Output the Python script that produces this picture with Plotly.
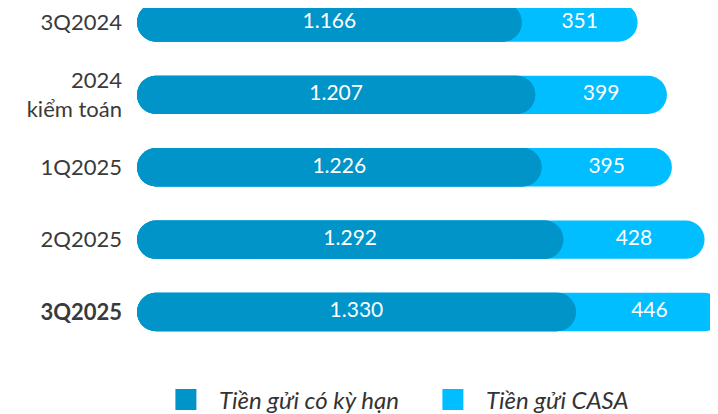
import plotly.graph_objects as go

categories = ['3Q2024', '2024<br>kiểm toán', '1Q2025', '2Q2025', '<b>3Q2025</b>']
term_deposits = [1166, 1207, 1226, 1292, 1330]
casa_deposits = [351, 399, 395, 428, 446]
series_names = ['Tiền gửi có kỳ hạn', 'Tiền gửi CASA']

dark = '#0094C9'
light = '#00BEFF'
font_family = 'Lato, Noto Sans, sans-serif'

totals = [t + c for t, c in zip(term_deposits, casa_deposits)]
fmt = lambda v: f'{v:,}'.replace(',', '.')

fig = go.Figure()
# light pill = full total, right end rounded (left end hidden under dark pill)
fig.add_trace(go.Bar(y=categories, x=totals, base=0, orientation='h', width=0.53,
                     marker=dict(color=light, cornerradius='50%', line=dict(width=0)),
                     showlegend=False, hoverinfo='skip'))
# dark pill drawn as two halves so both ends get rounded
fig.add_trace(go.Bar(y=categories, x=[-t for t in term_deposits], base=term_deposits, orientation='h', width=0.53,
                     marker=dict(color=dark, cornerradius='50%', line=dict(width=0)),
                     showlegend=False, hoverinfo='skip'))
fig.add_trace(go.Bar(y=categories, x=term_deposits, base=0, orientation='h', width=0.53,
                     marker=dict(color=dark, cornerradius='50%', line=dict(width=0)),
                     showlegend=False, hoverinfo='skip'))

# value labels
fig.add_trace(go.Scatter(y=categories, x=[t / 2 for t in term_deposits], mode='text',
                         text=[fmt(t) for t in term_deposits],
                         textfont=dict(color='white', size=21, family=font_family),
                         showlegend=False, hoverinfo='skip'))
fig.add_trace(go.Scatter(y=categories, x=[t + c / 2 for t, c in zip(term_deposits, casa_deposits)], mode='text',
                         text=[fmt(c) for c in casa_deposits],
                         textfont=dict(color='white', size=21, family=font_family),
                         showlegend=False, hoverinfo='skip'))

# legend entries
for name, col in zip(series_names, [dark, light]):
    fig.add_trace(go.Scatter(x=[None], y=[None], mode='markers', name=name,
                             marker=dict(symbol='square', size=16, color=col,
                                         line=dict(color=col, width=5))))

# page body has an 8px margin, so the layout is laid out 8px up/left
fig.update_layout(
    width=718, height=414,
    margin=dict(l=129, r=0, t=0, b=64, autoexpand=False),
    paper_bgcolor='white', plot_bgcolor='white',
    barmode='overlay',
    font=dict(family=font_family, color='#3a3a3a'),
    xaxis=dict(visible=False, range=[0, 1785], automargin=False),
    yaxis=dict(type='category', range=[4.635, -0.2], showgrid=False, showline=False, zeroline=False,
               automargin=False, tickfont=dict(size=22, color='#3a3a3a'), ticklabelstandoff=14),
    legend=dict(orientation='h', x=0.027, y=-0.12, xanchor='left', yanchor='middle',
                font=dict(size=24, style='italic', color='#333333'),
                itemwidth=56, entrywidth=196, itemsizing='trace'),
)

fig.write_html("out.html")
